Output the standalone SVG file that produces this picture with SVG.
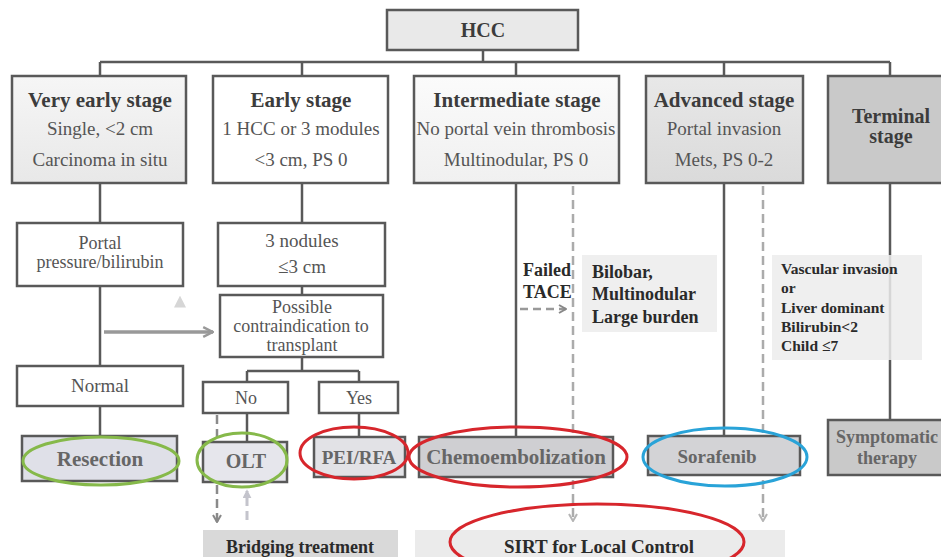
<svg xmlns="http://www.w3.org/2000/svg" width="941" height="557" viewBox="0 0 941 557">
<defs>
<linearGradient id="g1" x1="0" y1="0" x2="0" y2="1"><stop offset="0" stop-color="#f6f6f6"/><stop offset="1" stop-color="#e8e8e8"/></linearGradient>
<linearGradient id="g3" x1="0" y1="0" x2="0" y2="1"><stop offset="0" stop-color="#fbfbfb"/><stop offset="1" stop-color="#f0f0f0"/></linearGradient>
<linearGradient id="g4" x1="0" y1="0" x2="0" y2="1"><stop offset="0" stop-color="#e8e8e8"/><stop offset="1" stop-color="#dadada"/></linearGradient>
<linearGradient id="fade" x1="0" y1="1" x2="0" y2="0"><stop offset="0" stop-color="#ffffff"/><stop offset="1" stop-color="#cfcfcf"/></linearGradient>
<marker id="chevD" viewBox="0 0 10 10" refX="9" refY="5" markerWidth="4" markerHeight="4" orient="auto" markerUnits="strokeWidth"><polyline points="2,1 9,5 2,9" fill="none" stroke="#888" stroke-width="2"/></marker>
<marker id="chevL" viewBox="0 0 10 10" refX="9" refY="5" markerWidth="4" markerHeight="4" orient="auto" markerUnits="strokeWidth"><polyline points="2,1 9,5 2,9" fill="none" stroke="#b5b5b5" stroke-width="2"/></marker>
<marker id="triG" viewBox="0 0 10 10" refX="9" refY="5" markerWidth="3.5" markerHeight="3.5" orient="auto" markerUnits="strokeWidth"><path d="M1,1 L9,5 L1,9" fill="none" stroke="#999" stroke-width="2"/></marker>
<marker id="triL" viewBox="0 0 10 10" refX="8" refY="5" markerWidth="3" markerHeight="3" orient="auto" markerUnits="strokeWidth"><path d="M0,0 L10,5 L0,10 Z" fill="#c4c4cc"/></marker>
<marker id="triF" viewBox="0 0 10 10" refX="8" refY="5" markerWidth="3" markerHeight="3" orient="auto" markerUnits="strokeWidth"><path d="M0,0 L10,5 L0,10 Z" fill="#d6d6d6"/></marker>
</defs>
<style>
text{font-family:'Liberation Serif','DejaVu Serif',serif}
.box{stroke:#595959;stroke-width:2.5}
.ln{stroke:#595959;stroke-width:2.5;fill:none}
.ttl{font-weight:bold;font-size:21px;fill:#3c3c3c;text-anchor:middle}
.sub{font-size:19px;fill:#555;text-anchor:middle}
.sm{font-size:18px;fill:#555;text-anchor:middle}
.trt{font-weight:bold;font-size:21px;fill:#666;text-anchor:middle}
.note{font-weight:bold;font-size:18px;fill:#2a2a2a}
.mid{text-anchor:middle}
.note2{font-weight:bold;font-size:15.5px;fill:#2a2a2a}
.dash{stroke:#ababab;stroke-width:2.5;stroke-dasharray:9 5;fill:none}
.ell{fill:none;stroke-width:3}
</style>
<rect width="941" height="557" fill="#ffffff"/>

<g id="connectors">
<line class="ln" x1="483" y1="50" x2="483" y2="62"/>
<line class="ln" x1="100" y1="62" x2="890" y2="62"/>
<line class="ln" x1="100" y1="62" x2="100" y2="76"/>
<line class="ln" x1="302" y1="62" x2="302" y2="76"/>
<line class="ln" x1="516" y1="62" x2="516" y2="76"/>
<line class="ln" x1="724" y1="62" x2="724" y2="76"/>
<line class="ln" x1="890" y1="62" x2="890" y2="76"/>
<line class="ln" x1="100" y1="183" x2="100" y2="223"/>
<line class="ln" x1="100" y1="286" x2="100" y2="366"/>
<line class="ln" x1="100" y1="406" x2="100" y2="436"/>
<line class="ln" x1="302" y1="183" x2="302" y2="223"/>
<line class="ln" x1="302" y1="286" x2="302" y2="295"/>
<line class="ln" x1="302" y1="357" x2="302" y2="371"/>
<line class="ln" x1="247" y1="371" x2="359" y2="371"/>
<line class="ln" x1="247" y1="371" x2="247" y2="382"/>
<line class="ln" x1="359" y1="371" x2="359" y2="382"/>
<line class="ln" x1="247" y1="413" x2="247" y2="442"/>
<line class="ln" x1="359" y1="413" x2="359" y2="437"/>
<line class="ln" x1="516" y1="183" x2="516" y2="437"/>
<line class="ln" x1="724" y1="183" x2="724" y2="436"/>
<line class="ln" x1="890" y1="183" x2="890" y2="420"/>
<line x1="104" y1="332" x2="213" y2="332" stroke="#999" stroke-width="3.5" marker-end="url(#triG)"/>
<line x1="180" y1="322" x2="180" y2="298" stroke="url(#fade)" stroke-width="4" marker-end="url(#triF)"/>
<line class="dash" x1="573" y1="186" x2="573" y2="521" marker-end="url(#chevL)"/>
<line class="dash" x1="763" y1="186" x2="763" y2="521" marker-end="url(#chevL)"/>
<line x1="520" y1="309" x2="566" y2="309" stroke="#999" stroke-width="2.5" stroke-dasharray="8 5" marker-end="url(#chevD)"/>
<line x1="217" y1="415" x2="217" y2="522" stroke="#8a8a8a" stroke-width="2.5" stroke-dasharray="9 5" marker-end="url(#chevD)"/>
<line x1="247" y1="520" x2="247" y2="491" stroke="#c4c4cc" stroke-width="3" stroke-dasharray="9 5" marker-end="url(#triL)"/>
</g>

<g id="hcc">
<rect class="box" x="387" y="10" width="191" height="40" fill="#e9e9e9"/>
<text class="ttl" x="483" y="37" style="font-size:20px">HCC</text>
</g>

<g id="very-early">
<rect class="box" x="12" y="76" width="174" height="107" fill="url(#g1)"/>
<text class="ttl" x="100" y="107">Very early stage</text>
<text class="sub" x="100" y="135">Single, &lt;2 cm</text>
<text class="sub" x="100" y="166">Carcinoma in situ</text>
</g>

<g id="early">
<rect class="box" x="213" y="76" width="175" height="107" fill="#ffffff"/>
<text class="ttl" x="301" y="107">Early stage</text>
<text class="sub" x="301" y="135">1 HCC or 3 modules</text>
<text class="sub" x="301" y="166">&lt;3 cm, PS 0</text>
</g>

<g id="intermediate">
<rect class="box" x="414" y="76" width="205" height="107" fill="url(#g3)"/>
<text class="ttl" x="517" y="107">Intermediate stage</text>
<text class="sub" x="516" y="135">No portal vein thrombosis</text>
<text class="sub" x="516" y="166">Multinodular, PS 0</text>
</g>

<g id="advanced">
<rect class="box" x="646" y="76" width="157" height="107" fill="url(#g4)"/>
<text class="ttl" x="724" y="107">Advanced stage</text>
<text class="sub" x="724" y="135">Portal invasion</text>
<text class="sub" x="724" y="166">Mets, PS 0-2</text>
</g>

<g id="terminal">
<rect class="box" x="828" y="76" width="130" height="107" fill="#c9c9c9"/>
<text class="ttl" x="891" y="123" style="font-size:20px">Terminal</text>
<text class="ttl" x="891" y="143" style="font-size:20px">stage</text>
</g>

<g id="portal">
<rect class="box" x="17" y="223" width="166" height="63" fill="#ffffff"/>
<text class="sm" x="100" y="249">Portal</text>
<text class="sm" x="100" y="268">pressure/bilirubin</text>
</g>

<g id="normal">
<rect class="box" x="17" y="366" width="166" height="40" fill="#ffffff"/>
<text class="sub" x="100" y="392">Normal</text>
</g>

<g id="nodules">
<rect class="box" x="218" y="223" width="167" height="63" fill="#ffffff"/>
<text class="sub" x="302" y="247">3 nodules</text>
<text class="sub" x="302" y="273">≤3 cm</text>
</g>

<g id="contra">
<rect class="box" x="220" y="295" width="163" height="62" fill="#ffffff"/>
<text class="sm" x="302" y="313">Possible</text>
<text class="sm" x="301" y="332">contraindication to</text>
<text class="sm" x="302" y="351">transplant</text>
</g>

<g id="no">
<rect class="box" x="203" y="382" width="85" height="31" fill="#ffffff"/>
<text class="sm" x="246" y="404">No</text>
</g>

<g id="yes">
<rect class="box" x="319" y="382" width="79" height="31" fill="#ffffff"/>
<text class="sm" x="359" y="404">Yes</text>
</g>

<g id="resection">
<rect class="box" x="22" y="436" width="155" height="45" fill="#dfe0e8"/>
<text class="trt" x="100" y="466">Resection</text>
<ellipse class="ell" cx="101" cy="461" rx="78" ry="24" stroke="#86b94a"/>
</g>

<g id="olt">
<rect class="box" x="203" y="442" width="84" height="40" fill="#e6e6ec"/>
<text class="trt" x="246" y="468" style="font-size:20px">OLT</text>
<ellipse class="ell" cx="242" cy="460" rx="45" ry="27" stroke="#86b94a"/>
</g>

<g id="pei-rfa">
<rect class="box" x="314" y="437" width="91" height="40" fill="#e2e2e6"/>
<text class="trt" x="359" y="464" style="font-size:19px">PEI/RFA</text>
<ellipse class="ell" cx="354" cy="453" rx="54" ry="26" stroke="#d7262c"/>
</g>

<g id="chemo">
<rect class="box" x="419" y="437" width="194" height="40" fill="#cfcfd2"/>
<text class="trt" x="516" y="464">Chemoembolization</text>
<ellipse class="ell" cx="518" cy="457" rx="109" ry="30" stroke="#d7262c"/>
</g>

<g id="sorafenib">
<rect class="box" x="648" y="436" width="152" height="39" fill="#d3d3d6"/>
<text class="trt" x="717" y="463" style="font-size:19px">Sorafenib</text>
<ellipse class="ell" cx="725" cy="457" rx="82" ry="29" stroke="#29a3d8"/>
</g>

<g id="symptomatic">
<rect class="box" x="828" y="420" width="130" height="55" fill="#c9c9c9"/>
<text class="trt" x="887" y="443" style="font-size:18px">Symptomatic</text>
<text class="trt" x="887" y="464" style="font-size:18px">therapy</text>
</g>

<g id="failed-tace">
<text class="note" x="523" y="276">Failed</text>
<text class="note" x="523" y="298">TACE</text>
</g>

<g id="bilobar">
<rect x="582" y="255" width="135" height="77" fill="#efefef"/>
<text class="note" x="592" y="278">Bilobar,</text>
<text class="note" x="592" y="300">Multinodular</text>
<text class="note" x="592" y="323">Large burden</text>
</g>

<g id="vascular">
<rect x="772" y="255" width="150" height="105" fill="#ececec" fill-opacity="0.85"/>
<text class="note2" x="781" y="274">Vascular invasion</text>
<text class="note2" x="781" y="293">or</text>
<text class="note2" x="781" y="313">Liver dominant</text>
<text class="note2" x="781" y="332">Bilirubin&lt;2</text>
<text class="note2" x="781" y="351">Child ≤7</text>
</g>

<g id="bridging">
<rect x="203" y="530" width="195" height="30" fill="#d9d9d9"/>
<text class="note mid" x="300" y="553">Bridging treatment</text>
</g>

<g id="sirt">
<rect x="415" y="530" width="370" height="30" fill="#ebebeb"/>
<text class="note mid" x="599" y="553" style="font-size:19px">SIRT for Local Control</text>
<ellipse class="ell" cx="597" cy="542" rx="147" ry="38" stroke="#d7262c"/>
</g>
</svg>
